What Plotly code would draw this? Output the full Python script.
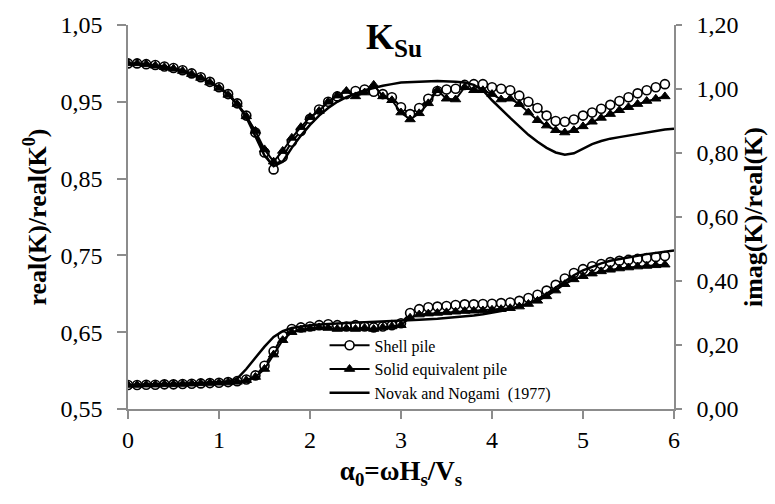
import plotly.graph_objects as go

x_pts = [round(0.1 * i, 1) for i in range(60)]

shell_real = [1.000, 1.000, 0.999, 0.998, 0.996, 0.994, 0.991, 0.987, 0.982, 0.976,
              0.969, 0.960, 0.948, 0.932, 0.910, 0.884, 0.862, 0.878, 0.898, 0.912,
              0.928, 0.940, 0.950, 0.957, 0.960, 0.964, 0.966, 0.963, 0.960, 0.956,
              0.943, 0.934, 0.942, 0.954, 0.964, 0.966, 0.967, 0.972, 0.973, 0.973,
              0.969, 0.967, 0.965, 0.958, 0.950, 0.942, 0.932, 0.925, 0.924, 0.927,
              0.932, 0.936, 0.941, 0.946, 0.951, 0.956, 0.961, 0.965, 0.969, 0.973]

solid_real = [1.000, 1.000, 0.999, 0.997, 0.995, 0.993, 0.990, 0.986, 0.981, 0.975,
              0.968, 0.959, 0.947, 0.931, 0.912, 0.888, 0.872, 0.886, 0.903, 0.917,
              0.930, 0.938, 0.950, 0.958, 0.964, 0.957, 0.962, 0.972, 0.957, 0.952,
              0.936, 0.927, 0.935, 0.948, 0.965, 0.954, 0.953, 0.969, 0.965, 0.965,
              0.960, 0.953, 0.954, 0.947, 0.936, 0.926, 0.919, 0.913, 0.910, 0.913,
              0.918, 0.924, 0.929, 0.934, 0.939, 0.943, 0.947, 0.951, 0.954, 0.957]

shell_imag = [0.075, 0.075, 0.076, 0.076, 0.077, 0.077, 0.078, 0.079, 0.080, 0.081,
              0.082, 0.084, 0.087, 0.092, 0.105, 0.135, 0.180, 0.228, 0.250, 0.255,
              0.258, 0.262, 0.265, 0.262, 0.258, 0.262, 0.258, 0.255, 0.258, 0.262,
              0.268, 0.300, 0.312, 0.318, 0.320, 0.322, 0.325, 0.327, 0.327, 0.328,
              0.329, 0.331, 0.333, 0.338, 0.347, 0.357, 0.370, 0.388, 0.408, 0.425,
              0.437, 0.446, 0.453, 0.459, 0.463, 0.466, 0.469, 0.472, 0.475, 0.478]

solid_imag = [0.075, 0.075, 0.076, 0.076, 0.077, 0.077, 0.078, 0.079, 0.080, 0.081,
              0.082, 0.083, 0.085, 0.090, 0.100, 0.125, 0.170, 0.215, 0.240, 0.248,
              0.252, 0.255, 0.253, 0.250, 0.252, 0.250, 0.253, 0.250, 0.255, 0.258,
              0.262, 0.285, 0.295, 0.298, 0.300, 0.302, 0.304, 0.306, 0.307, 0.308,
              0.310, 0.312, 0.315, 0.320, 0.328, 0.338, 0.352, 0.370, 0.390, 0.405,
              0.415, 0.423, 0.430, 0.435, 0.439, 0.442, 0.445, 0.447, 0.449, 0.451]

x_novak = [0.0, 0.2, 0.4, 0.6, 0.8, 1.0, 1.1, 1.2, 1.3, 1.4, 1.5, 1.6, 1.7, 1.8, 1.9,
           2.0, 2.1, 2.2, 2.3, 2.4, 2.5, 2.6, 2.7, 2.8, 2.9, 3.0, 3.2, 3.4, 3.6, 3.7,
           3.8, 3.9, 4.0, 4.1, 4.2, 4.3, 4.4, 4.5, 4.6, 4.7, 4.8, 4.9, 5.0, 5.1, 5.2,
           5.3, 5.4, 5.5, 5.6, 5.7, 5.8, 5.9, 6.0]

novak_real = [1.000, 0.999, 0.996, 0.991, 0.982, 0.969, 0.960, 0.947, 0.930, 0.906,
              0.880, 0.866, 0.872, 0.890, 0.906, 0.920, 0.932, 0.942, 0.950, 0.956,
              0.961, 0.965, 0.968, 0.971, 0.973, 0.975, 0.976, 0.977, 0.976, 0.975,
              0.972, 0.965, 0.952, 0.940, 0.929, 0.918, 0.907, 0.898, 0.890, 0.884,
              0.881, 0.883, 0.889, 0.895, 0.899, 0.902, 0.904, 0.906, 0.908, 0.910,
              0.912, 0.914, 0.915]

novak_imag = [0.075, 0.076, 0.077, 0.079, 0.081, 0.084, 0.087, 0.095, 0.125, 0.160,
              0.195, 0.225, 0.243, 0.253, 0.258, 0.262, 0.264, 0.266, 0.267, 0.268,
              0.270, 0.271, 0.272, 0.273, 0.275, 0.276, 0.279, 0.282, 0.286, 0.289,
              0.292, 0.296, 0.300, 0.306, 0.313, 0.320, 0.330, 0.343, 0.360, 0.380,
              0.400, 0.418, 0.433, 0.445, 0.455, 0.463, 0.469, 0.474, 0.479, 0.484,
              0.488, 0.492, 0.495]

x_ticks = [0, 1, 2, 3, 4, 5, 6]

FONT = "Liberation Serif"
AX = "#8c8c8c"

circ = dict(symbol="circle", size=9, color="white", line=dict(color="black", width=1.6))
tri = dict(symbol="triangle-up", size=9, color="black", line=dict(color="black", width=1))

fig = go.Figure()

fig.add_trace(go.Scatter(x=x_pts, y=shell_real, mode="lines+markers", name="Shell pile",
                         line=dict(color="black", width=2), marker=circ,
                         legendgroup="shell", yaxis="y"))
fig.add_trace(go.Scatter(x=x_pts, y=solid_real, mode="lines+markers", name="Solid equivalent pile",
                         line=dict(color="black", width=2), marker=tri,
                         legendgroup="solid", yaxis="y"))
fig.add_trace(go.Scatter(x=x_novak, y=novak_real, mode="lines", name="Novak and Nogami  (1977)",
                         line=dict(color="black", width=2.5), legendgroup="novak", yaxis="y"))

fig.add_trace(go.Scatter(x=x_pts, y=shell_imag, mode="lines+markers", name="Shell pile",
                         line=dict(color="black", width=2), marker=circ,
                         legendgroup="shell", showlegend=False, yaxis="y2"))
fig.add_trace(go.Scatter(x=x_pts, y=solid_imag, mode="lines+markers", name="Solid equivalent pile",
                         line=dict(color="black", width=2), marker=tri,
                         legendgroup="solid", showlegend=False, yaxis="y2"))
fig.add_trace(go.Scatter(x=x_novak, y=novak_imag, mode="lines", name="Novak and Nogami  (1977)",
                         line=dict(color="black", width=2.5), legendgroup="novak",
                         showlegend=False, yaxis="y2"))

fig.update_layout(
    width=775, height=504,
    margin=dict(l=128, r=100, t=17, b=95),
    paper_bgcolor="white", plot_bgcolor="white",
    separators=", ",
    font=dict(family=FONT, color="black", size=21),
    showlegend=True,
    legend=dict(x=0.36, y=0.21, xanchor="left", yanchor="top",
                bgcolor="rgba(0,0,0,0)", font=dict(family=FONT, size=16),
                tracegroupgap=0, itemwidth=40),
    xaxis=dict(range=[0, 6], tickvals=x_ticks, ticks="outside", ticklen=8,
               tickcolor=AX, tickwidth=1.5, showline=True, linecolor=AX, linewidth=1.5,
               showgrid=False, zeroline=False, tickfont=dict(family=FONT, size=24),
               title=dict(text="<b>α<sub>0</sub>=ωH<sub>s</sub>/V<sub>s</sub></b>",
                          font=dict(family=FONT, size=27), standoff=10)),
    yaxis=dict(range=[0.55, 1.05], dtick=0.1, tick0=0.55, tickformat=".2f",
               ticks="outside", ticklen=9, tickcolor=AX, tickwidth=1.5,
               showline=True, linecolor=AX, linewidth=1.5, showgrid=False, zeroline=False,
               tickfont=dict(family=FONT, size=24), ticklabelstandoff=10,
               title=dict(text="<b>real(K)/real(K<sup>0</sup>)</b>",
                          font=dict(family=FONT, size=26), standoff=6)),
    yaxis2=dict(range=[0, 1.2], dtick=0.2, tick0=0, tickformat=".2f", overlaying="y",
                side="right", ticks="outside", ticklen=6, tickcolor=AX, tickwidth=1.5,
                showline=True, linecolor=AX, linewidth=1.5, showgrid=False, zeroline=False,
                tickfont=dict(family=FONT, size=24), ticklabelstandoff=10,
                title=dict(text="<b>imag(K)/real(K)</b>",
                           font=dict(family=FONT, size=26), standoff=6)),
    annotations=[dict(x=2.92, y=1.031, xref="x", yref="y", showarrow=False,
                      yanchor="middle",
                      text="<b>K<sub>Su</sub></b>", font=dict(family=FONT, size=36))],
)

fig.write_html("out.html")
